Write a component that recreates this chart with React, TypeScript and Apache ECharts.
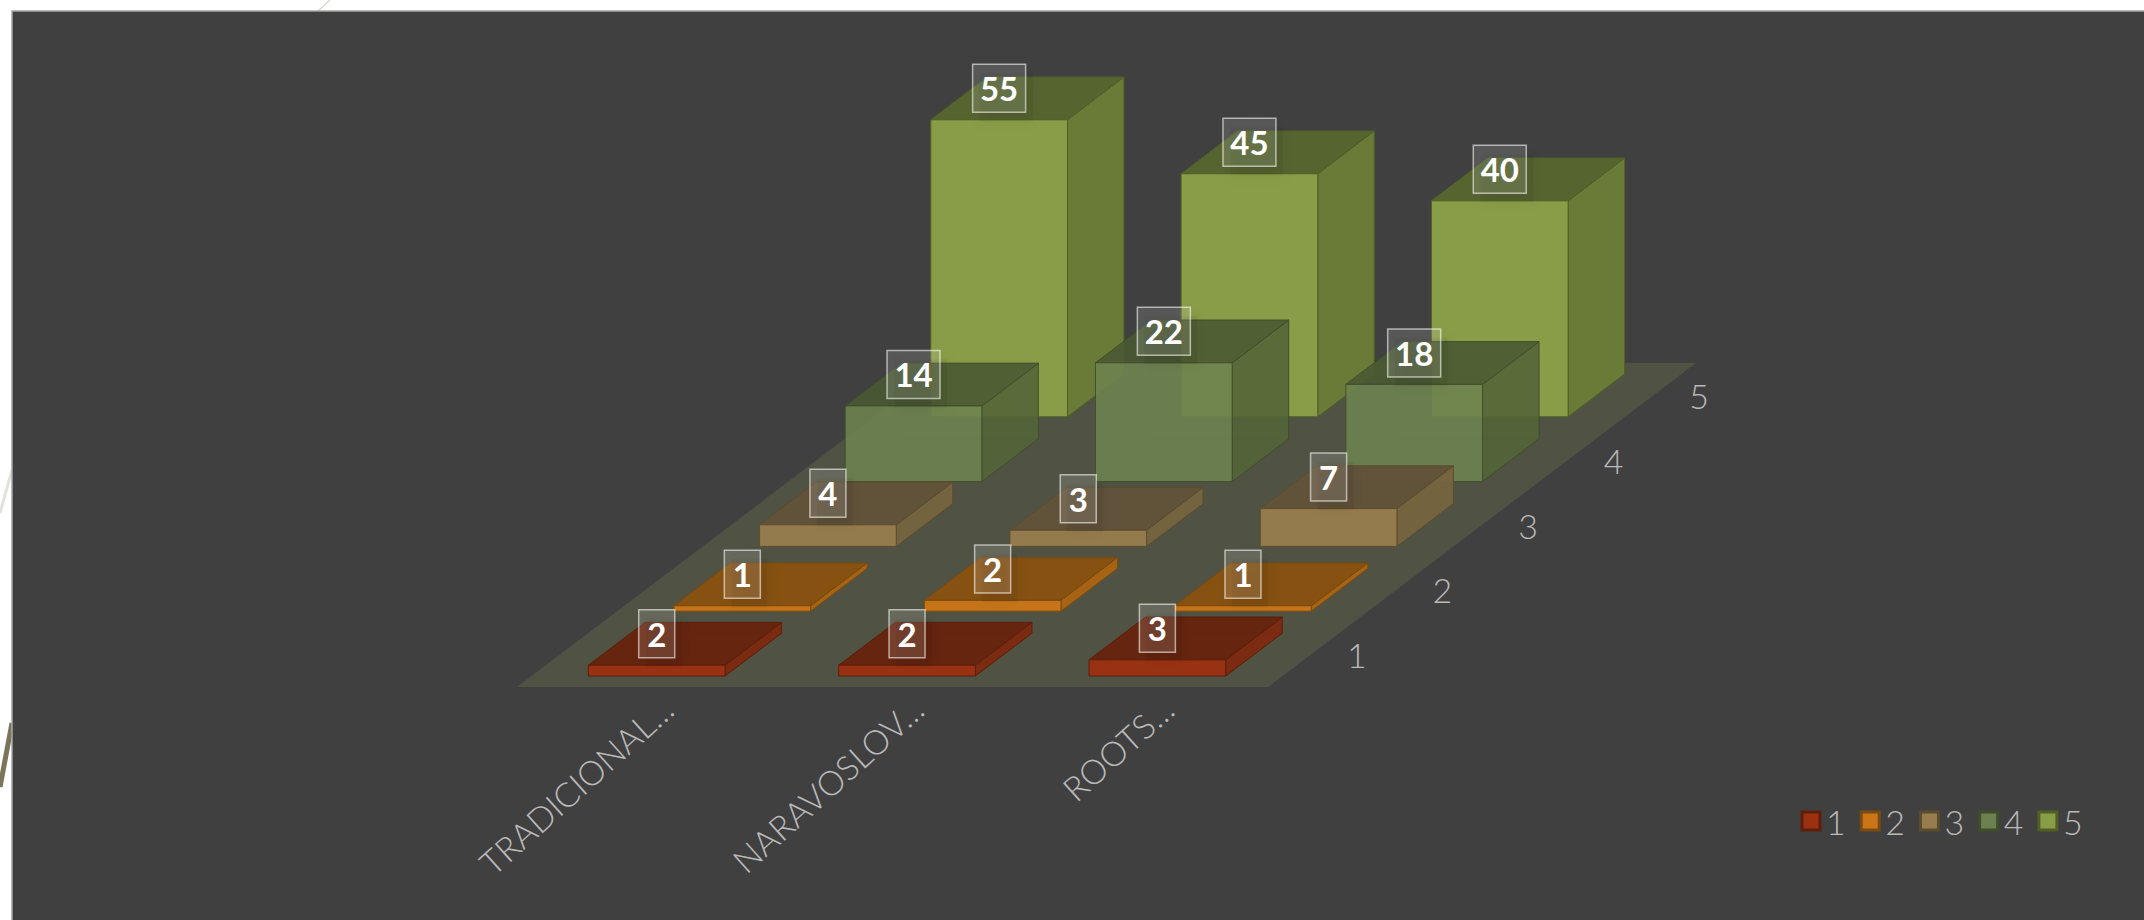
import React, { useEffect, useRef } from "react";
import * as echarts from "echarts";

// Chart data
const categories = ["TRADICIONAL…", "NARAVOSLOV…", "ROOTS…"];
const depthLabels = ["1", "2", "3", "4", "5"];
const row1 = [2, 2, 3];
const row2 = [1, 2, 1];
const row3 = [4, 3, 7];
const row4 = [14, 22, 18];
const row5 = [55, 45, 40];
const rowValues = [row1, row2, row3, row4, row5];

// Face colours per depth row
const rowStyles = [
  { front: "#9b3111", top: "#66230c", side: "#7d2a10", edge: "#5e1f0a", swatch: "#9b3111", alpha: 0.96 },
  { front: "#ca7618", top: "#875110", side: "#a96412", edge: "#7a4a10", swatch: "#ca7618", alpha: 0.96 },
  { front: "#977d4e", top: "#62523a", side: "#76643f", edge: "#5c4c2e", swatch: "#977d4e", alpha: 0.96 },
  { front: "#6f8450", top: "#495832", side: "#546538", edge: "#3f4d2a", swatch: "#6d8050", alpha: 0.86 },
  { front: "#899c47", top: "#566430", side: "#6a7a37", edge: "#515f27", swatch: "#899c47", alpha: 1 },
];

// Oblique projection of the floor: screen shift for one depth row
const ROW_DX = 85.6;
const ROW_DY = -64.8;
const BAR_WIDTH = 0.546;
const BAR_DEPTH = 0.66;
const ROW_COUNT = depthLabels.length;

const TEXT_COLOR = "#b9b9b9";
const LABEL_FONT = "Lato";

function projector(api: any) {
  const band = api.size([1, 0])[0];
  return (cat: number, value: number, depth: number) => {
    const c = api.coord([Math.floor(cat + 0.5), value]);
    return [
      c[0] + (cat - Math.floor(cat + 0.5)) * band + depth * ROW_DX,
      c[1] + depth * ROW_DY,
    ];
  };
}

function renderFloor(_: any, api: any) {
  const p = projector(api);
  const last = categories.length - 0.5;
  return {
    type: "group",
    children: [
      {
        type: "polygon",
        shape: {
          points: [p(-0.5, 0, 0), p(last, 0, 0), p(last, 0, ROW_COUNT), p(-0.5, 0, ROW_COUNT)],
        },
        style: { fill: "#505343" },
      },
    ],
  };
}

function renderDepthLabel(params: any, api: any) {
  const p = projector(api);
  const i = params.dataIndex;
  const at = p(categories.length - 0.5, 0, i + 0.5);
  return {
    type: "text",
    x: at[0] + 46,
    y: at[1],
    style: {
      text: depthLabels[i],
      fill: TEXT_COLOR,
      align: "center",
      verticalAlign: "middle",
      font: `300 34px ${LABEL_FONT}`,
    },
  };
}

function renderCategoryLabel(params: any, api: any) {
  const c = api.coord([params.dataIndex, 0]);
  return {
    type: "text",
    x: c[0] + 25,
    y: c[1] + 16,
    rotation: (42 * Math.PI) / 180,
    style: {
      text: categories[params.dataIndex],
      fill: TEXT_COLOR,
      align: "right",
      verticalAlign: "middle",
      font: `300 34px ${LABEL_FONT}`,
    },
  };
}

function renderBar(row: number) {
  const s = rowStyles[row];
  return (params: any, api: any) => {
    const p = projector(api);
    const cat = api.value(0);
    const value = api.value(1);
    const l = cat - BAR_WIDTH / 2;
    const r = cat + BAR_WIDTH / 2;
    const d0 = row + (1 - BAR_DEPTH) / 2;
    const d1 = d0 + BAR_DEPTH;
    const face = (points: number[][], fill: string, opacity: number) => ({
      type: "polygon",
      shape: { points },
      style: { fill, stroke: s.edge, lineWidth: 1, opacity },
    });
    const fl = p(l, 0, d0);
    const fr = p(r, 0, d0);
    const bl = p(l, 0, d1);
    const br = p(r, 0, d1);
    const tfl = p(l, value, d0);
    const tfr = p(r, value, d0);
    const tbl = p(l, value, d1);
    const tbr = p(r, value, d1);
    const cx = (tfl[0] + tfr[0]) / 2;
    const cy = tfl[1] - 31.5;
    const text = String(value);
    const boxW = text.length > 1 ? 53 : 36;
    const boxH = 48;
    return {
      type: "group",
      children: [
        // far faces seen faintly through the translucent near ones
        face([fl, fr, br, bl], s.top, 0.25),
        face([bl, br, tbr, tbl], s.side, 0.2),
        face([fl, bl, tbl, tfl], s.side, 0.2),
        face([fr, br, tbr, tfr], s.side, s.alpha),
        face([tfl, tfr, tbr, tbl], s.top, s.alpha),
        face([fl, fr, tfr, tfl], s.front, s.alpha),
        // data label with its soft shadow
        {
          type: "rect",
          shape: { x: cx - boxW / 2 + 7, y: cy - boxH / 2 + 9, width: boxW, height: boxH },
          style: {
            fill: "rgba(0,0,0,0.05)",
            shadowBlur: 14,
            shadowColor: "rgba(0,0,0,0.9)",
          },
        },
        {
          type: "rect",
          shape: { x: cx - boxW / 2, y: cy - boxH / 2, width: boxW, height: boxH },
          style: { fill: "rgba(255,255,255,0.13)", stroke: "rgba(255,255,255,0.58)", lineWidth: 1.5 },
        },
        {
          type: "text",
          x: cx,
          y: cy,
          style: {
            text,
            fill: "#ffffff",
            align: "center",
            verticalAlign: "middle",
            font: `700 33px ${LABEL_FONT}`,
          },
        },
      ],
    };
  };
}

export default function App() {
  const ref = useRef<HTMLDivElement>(null);

  useEffect(() => {
    if (!ref.current) return;
    const chart = echarts.init(ref.current, undefined, { renderer: "svg" });
    const barSeries = rowValues
      .map((values, row) => ({
        type: "custom",
        name: depthLabels[row],
        coordinateSystem: "cartesian2d",
        z: 10 + (ROW_COUNT - row),
        clip: false,
        itemStyle: { color: rowStyles[row].swatch },
        encode: { x: 0, y: 1 },
        data: values.map((v, i) => [i, v]),
        renderItem: renderBar(row),
      }))
      .reverse();

    chart.setOption({
      animation: false,
      backgroundColor: "#ffffff",
      graphic: {
        elements: [
          { type: "line", z: -2, shape: { x1: 318, y1: 11, x2: 330, y2: 0 }, style: { stroke: "#dcdbd0", lineWidth: 1.5 } },
          { type: "line", z: -2, shape: { x1: 12, y1: 470, x2: 0, y2: 513 }, style: { stroke: "#e3e2da", lineWidth: 3 } },
          { type: "line", z: -2, shape: { x1: 12, y1: 723, x2: 0, y2: 787 }, style: { stroke: "#7b7659", lineWidth: 5 } },
          {
            type: "rect",
            z: -1,
            shape: { x: 12, y: 11, width: 2140, height: 920 },
            style: { fill: "#404040", stroke: "#a6a6a6", lineWidth: 1.5 },
          },
        ],
      },
      grid: { left: 517, top: 363, width: 751, height: 324 },
      xAxis: { type: "category", data: categories, show: false },
      yAxis: { type: "value", min: 0, max: 60, show: false },
      legend: {
        left: 1800.5,
        top: 804,
        padding: 0,
        selectedMode: false,
        icon: "rect",
        itemWidth: 18,
        itemHeight: 18,
        itemGap: 14,
        textStyle: {
          color: TEXT_COLOR,
          fontFamily: LABEL_FONT,
          fontWeight: 300,
          fontSize: 34,
          padding: [0, 0, 0, 1],
        },
        data: depthLabels.map((name, row) => ({
          name,
          itemStyle: {
            color: rowStyles[row].swatch,
            borderColor: rowStyles[row].edge,
            borderWidth: 3,
          },
        })),
      },
      series: [
        {
          type: "custom",
          name: "floor",
          coordinateSystem: "cartesian2d",
          z: 2,
          clip: false,
          data: [[0, 0]],
          renderItem: renderFloor,
        },
        {
          type: "custom",
          name: "depth labels",
          coordinateSystem: "cartesian2d",
          z: 3,
          clip: false,
          data: depthLabels.map((_, i) => [0, 0, i]),
          renderItem: renderDepthLabel,
        },
        {
          type: "custom",
          name: "category labels",
          coordinateSystem: "cartesian2d",
          z: 3,
          clip: false,
          data: categories.map((_, i) => [i, 0]),
          renderItem: renderCategoryLabel,
        },
        ...barSeries,
      ],
    });
    return () => chart.dispose();
  }, []);

  return <div ref={ref} style={{ position: "fixed", left: 0, top: 0, width: 2144, height: 920 }} />;
}
